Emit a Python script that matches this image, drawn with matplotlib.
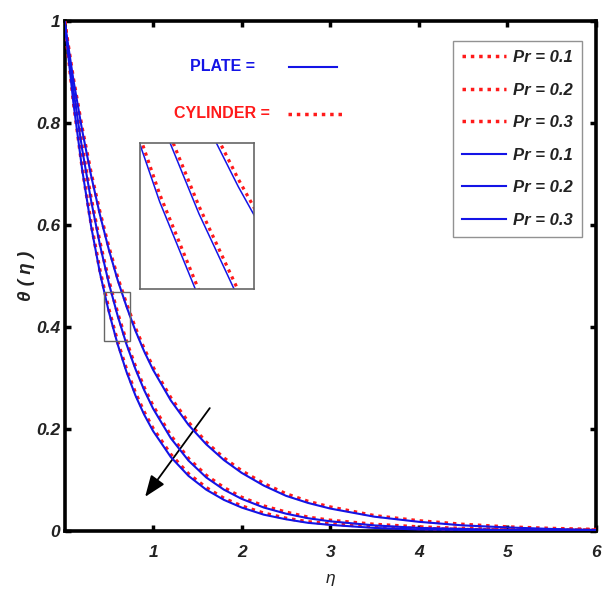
import matplotlib
matplotlib.use("Agg")
import matplotlib.pyplot as plt
from matplotlib.patches import Rectangle

# Similarity variable
eta = [0.0, 0.1, 0.2, 0.3, 0.4, 0.5, 0.6, 0.7, 0.8, 0.9, 1.0, 1.2, 1.4, 1.6, 1.8,
       2.0, 2.25, 2.5, 2.75, 3.0, 3.5, 4.0, 4.5, 5.0, 5.5, 6.0]

# Temperature profiles, flat plate
plate_pr01 = [1.0, 0.885, 0.785, 0.697, 0.620, 0.552, 0.492, 0.440, 0.393, 0.352, 0.316,
              0.256, 0.208, 0.170, 0.139, 0.114, 0.089, 0.069, 0.055, 0.044, 0.028,
              0.018, 0.011, 0.007, 0.004, 0.002]
plate_pr02 = [1.0, 0.865, 0.748, 0.648, 0.561, 0.486, 0.422, 0.366, 0.318, 0.276, 0.240,
              0.182, 0.138, 0.105, 0.081, 0.063, 0.046, 0.034, 0.025, 0.019, 0.011,
              0.006, 0.004, 0.002, 0.001, 0.001]
plate_pr03 = [1.0, 0.840, 0.708, 0.598, 0.506, 0.430, 0.366, 0.312, 0.266, 0.228, 0.196,
              0.145, 0.108, 0.081, 0.061, 0.046, 0.032, 0.023, 0.016, 0.012, 0.006,
              0.003, 0.002, 0.001, 0.001, 0.000]

# Temperature profiles, cylinder
cyl_pr01 = [1.0, 0.887, 0.789, 0.702, 0.625, 0.557, 0.497, 0.445, 0.398, 0.357, 0.321,
            0.261, 0.213, 0.174, 0.143, 0.118, 0.093, 0.073, 0.058, 0.047, 0.030,
            0.020, 0.013, 0.008, 0.005, 0.003]
cyl_pr02 = [1.0, 0.867, 0.752, 0.653, 0.566, 0.491, 0.427, 0.371, 0.323, 0.281, 0.245,
            0.187, 0.142, 0.109, 0.085, 0.066, 0.049, 0.037, 0.027, 0.021, 0.013,
            0.008, 0.005, 0.003, 0.002, 0.002]
cyl_pr03 = [1.0, 0.842, 0.712, 0.603, 0.511, 0.435, 0.371, 0.317, 0.271, 0.233, 0.201,
            0.150, 0.112, 0.085, 0.064, 0.049, 0.035, 0.025, 0.018, 0.014, 0.008,
            0.005, 0.003, 0.002, 0.002, 0.002]

pr_labels = ["Pr = 0.1", "Pr = 0.2", "Pr = 0.3"]
x_ticks = [1, 2, 3, 4, 5, 6]
y_ticks = [0, 0.2, 0.4, 0.6, 0.8, 1.0]
y_tick_labels = ["0", "0.2", "0.4", "0.6", "0.8", "1"]

RED = "#ff1a1a"
BLUE = "#1414e6"
DOTS = (0, (1, 1.4))

plt.rcParams["font.family"] = ["Liberation Sans", "DejaVu Sans"]

fig = plt.figure(figsize=(6.05, 5.98), dpi=100)
ax = fig.add_axes([64.5 / 605, 1 - 531 / 598, (596 - 64.5) / 605, (531 - 21) / 598])

cyl = [cyl_pr01, cyl_pr02, cyl_pr03]
plate = [plate_pr01, plate_pr02, plate_pr03]
handles = []
for series, lab in zip(cyl, pr_labels):
    h, = ax.plot(eta, series, color=RED, lw=2.5, ls=DOTS, label=lab, zorder=3)
    handles.append(h)
for series, lab in zip(plate, pr_labels):
    h, = ax.plot(eta, series, color=BLUE, lw=1.5, ls="-", label=lab, zorder=4)
    handles.append(h)

ax.set_xlim(0, 6)
ax.set_ylim(0, 1)
ax.set_xticks(x_ticks)
ax.set_xticklabels([str(t) for t in x_ticks])
ax.set_yticks(y_ticks)
ax.set_yticklabels(y_tick_labels)
ax.tick_params(direction="in", length=4, width=2.5, top=True, right=True,
               colors="black", labelcolor="#222222")
ax.tick_params(axis="x", pad=10)
ax.tick_params(axis="y", pad=3)
for lbl in ax.get_xticklabels() + ax.get_yticklabels():
    lbl.set_fontsize(12.5)
    lbl.set_fontweight("bold")
    lbl.set_fontstyle("italic")
for sp in ax.spines.values():
    sp.set_linewidth(2.6)
    sp.set_color("black")

ax.set_xlabel("η", fontsize=12.5, fontstyle="italic", labelpad=8, color="#222222")
ax.set_ylabel("θ ( η )", fontsize=13.5, fontstyle="italic", fontweight="bold",
              labelpad=1, color="#222222")

# Legend
leg = ax.legend(handles=handles, loc="upper right", bbox_to_anchor=(0.974, 0.961),
                borderaxespad=0, fancybox=False, edgecolor="#777777",
                handlelength=2.6, handletextpad=0.45, labelspacing=1.05,
                borderpad=0.55, prop={"size": 12, "weight": "bold", "style": "italic"})
leg.get_frame().set_linewidth(1.0)
for t in leg.get_texts():
    t.set_color("#222222")

# Key labels for geometry
ax.text(0.298, 0.91, "PLATE =", transform=ax.transAxes, color=BLUE, fontsize=11.5,
        fontweight="bold", ha="center", va="center")
ax.plot([0.422, 0.513], [0.91, 0.91], transform=ax.transAxes, color=BLUE, lw=1.5)
ax.text(0.296, 0.818, "CYLINDER =", transform=ax.transAxes, color=RED, fontsize=11.5,
        fontweight="bold", ha="center", va="center")
ax.plot([0.42, 0.525], [0.818, 0.818], transform=ax.transAxes, color=RED, lw=2.5,
        ls=DOTS)

# Arrow showing increasing Pr
ax.annotate("", xy=(0.91, 0.067), xytext=(1.64, 0.241),
            arrowprops=dict(arrowstyle="-|>,head_length=1.3,head_width=0.5",
                            color="black", lw=1.3, shrinkA=0, shrinkB=0))

# Zoom window
inset_x = (0.45, 0.74)
inset_y = (0.372, 0.469)
ax.add_patch(Rectangle((inset_x[0], inset_y[0]), inset_x[1] - inset_x[0],
                       inset_y[1] - inset_y[0], fill=False, edgecolor="#666666",
                       lw=1.0, zorder=5))

axin = fig.add_axes([140 / 605, 1 - 289 / 598, 114 / 605, 146 / 598])
for series in cyl:
    axin.plot(eta, series, color=RED, lw=2.3, ls=DOTS)
for series in plate:
    axin.plot(eta, series, color=BLUE, lw=1.1)
axin.set_xlim(*inset_x)
axin.set_ylim(*inset_y)
axin.set_xticks([])
axin.set_yticks([])
for sp in axin.spines.values():
    sp.set_linewidth(1.2)
    sp.set_color("#666666")

fig.savefig("out.png", dpi=100, facecolor="white")
